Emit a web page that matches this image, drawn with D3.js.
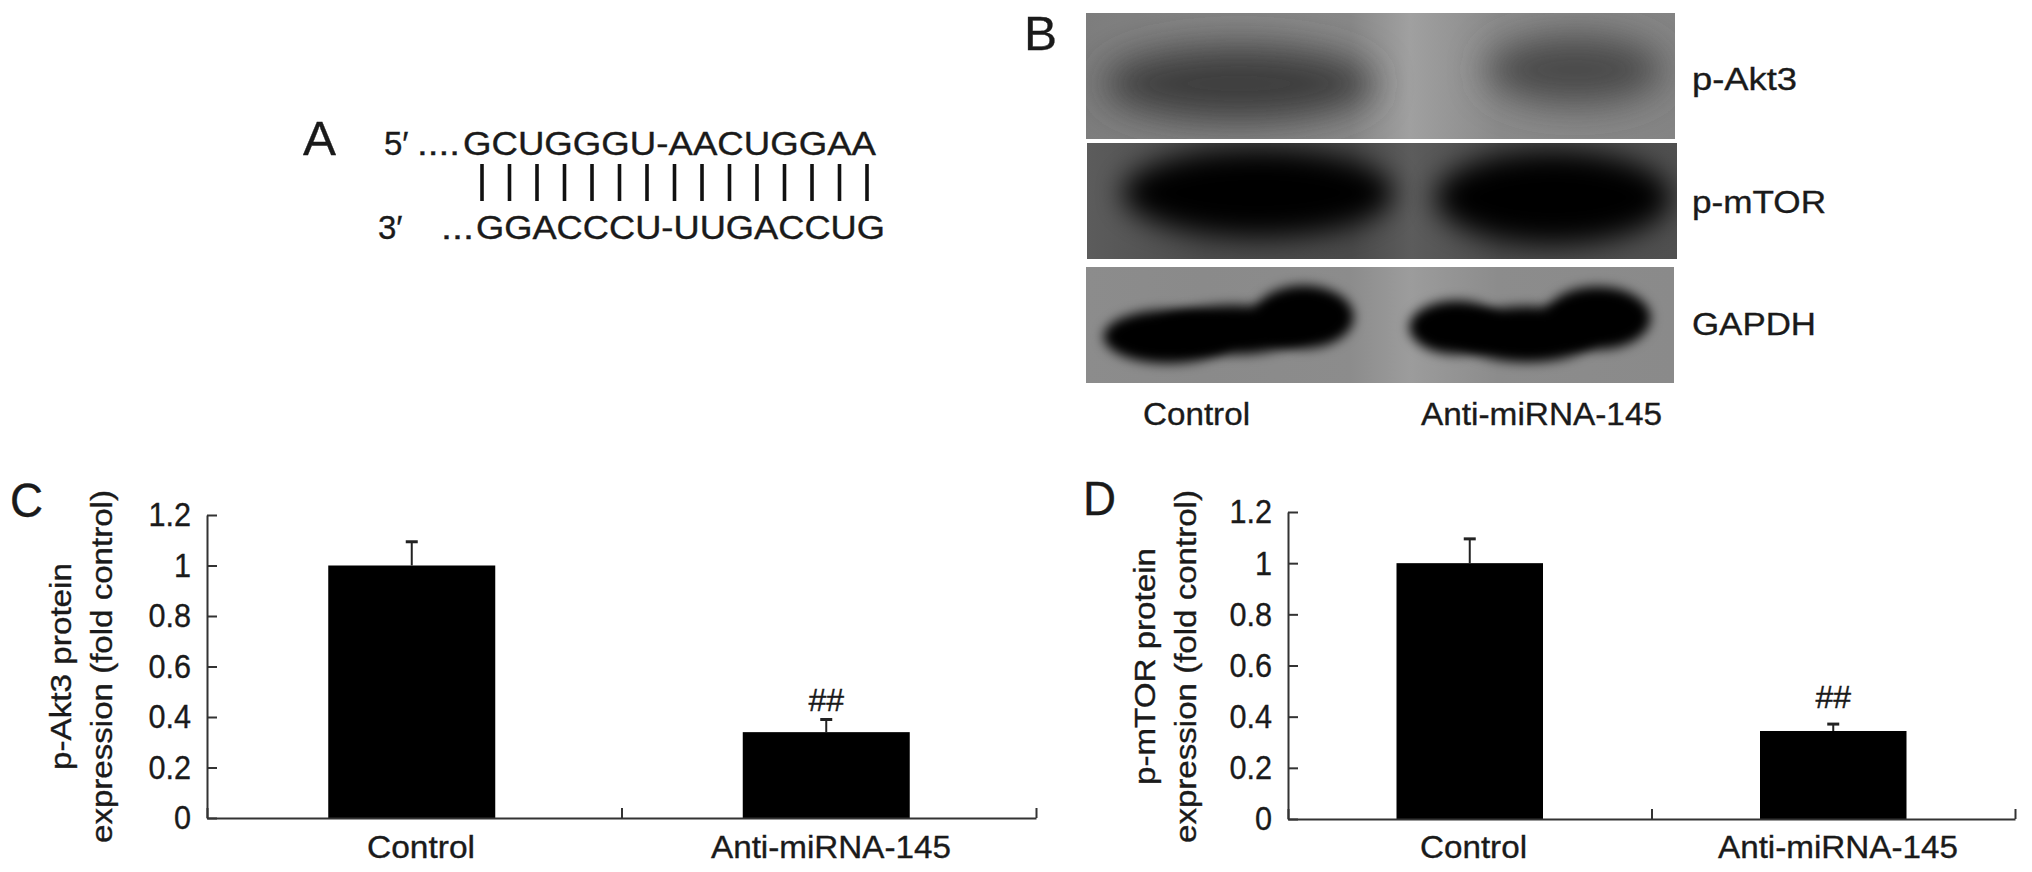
<!DOCTYPE html>
<html><head><meta charset="utf-8">
<script src="https://cdnjs.cloudflare.com/ajax/libs/d3/7.8.5/d3.min.js"></script>
<style>html,body{margin:0;padding:0;background:#fff}svg{display:block}text{font-family:"Liberation Sans",Arial,sans-serif;fill:#1a1a1a;stroke:#1a1a1a;stroke-width:.35px}</style>
</head><body><svg id="c" width="2032" height="872"></svg>
<script>
const categories = ["Control", "Anti-miRNA-145"];
const yTicks = [0, 0.2, 0.4, 0.6, 0.8, 1, 1.2];
const akt3Values = [1.0, 0.34];
const akt3Errors = [0.094, 0.05];
const mtorValues = [1.0, 0.344];
const mtorErrors = [0.095, 0.027];
const significance = ["", "##"];
const topStrand = "GCUGGGU-AACUGGAA";
const bottomStrand = "GGACCCU-UUGACCUG";
const pairIds = d3.range(15);
const blotLabels = ["p-Akt3", "p-mTOR", "GAPDH"];

const svg = d3.select("#c");
const defs = svg.append("defs");
[6, 14, 18].forEach(s => defs.append("filter").attr("id", "blur" + s)
  .attr("x", "-50%").attr("y", "-50%").attr("width", "200%").attr("height", "200%")
  .append("feGaussianBlur").attr("stdDeviation", s));

function label(x, y, s, size, o = {}) {
  const t = svg.append("text").attr("x", x).attr("y", y).attr("font-size", size).text(s);
  if (o.len) t.attr("textLength", o.len).attr("lengthAdjust", "spacingAndGlyphs");
  return t;
}

/* Panel letters */
[["A", 303, 155], ["B", 1024, 50], ["C", 10, 517], ["D", 1083, 515]].forEach(d =>
  label(d[1], d[2], d[0], 49, {len: 33}));

/* Panel A */
label(384, 155, "5′", 33);
label(417, 155, "....", 33, {len: 43});
label(463, 155, topStrand, 33, {len: 413});
label(378, 239, "3′", 33);
label(441, 239, "...", 33, {len: 33});
label(476, 239, bottomStrand, 33, {len: 409});
const pairX = d3.scalePoint().domain(pairIds).range([482, 867]);
svg.append("g").selectAll("line").data(pairIds).join("line")
  .attr("x1", d => pairX(d)).attr("x2", d => pairX(d)).attr("y1", 164).attr("y2", 201)
  .attr("stroke", "#111").attr("stroke-width", 3.6);

/* Panel B: blots */
const blots = [
  {x: 1086, y: 13, w: 589, h: 126, stops: ["#7d7d7d", "#848484", "#888888", "#a0a0a0", "#8a8a8a", "#848484"],
   blob: [[.26, .56, .23, .3, "#3c3c3c", 18], [.83, .45, .15, .27, "#4a4a4a", 18]]},
  {x: 1087, y: 143, w: 590, h: 116, stops: ["#5c5c5c", "#4c4c4c", "#4a4a4a", "#5c5c5c", "#4c4c4c", "#505050"],
   blob: [[.29, .43, .23, .38, "#000", 14], [.79, .47, .2, .4, "#000", 14]]},
  {x: 1086, y: 267, w: 588, h: 116, stops: ["#8c8c8c", "#8a8a8a", "#8c8c8c", "#9c9c9c", "#8c8c8c", "#8a8a8a"],
   blob: [[.14, .6, .11, .23, "#000", 6], [.25, .54, .13, .21, "#000", 6], [.37, .43, .085, .27, "#000", 6],
          [.63, .52, .08, .23, "#000", 6], [.75, .58, .12, .24, "#000", 6], [.87, .44, .09, .27, "#000", 6]]}
];
blots.forEach((b, i) => {
  const px = d3.scaleLinear().domain([0, 1]).range([b.x, b.x + b.w]);
  const py = d3.scaleLinear().domain([0, 1]).range([b.y, b.y + b.h]);
  const gid = "bg" + i;
  defs.append("linearGradient").attr("id", gid).selectAll("stop").data(b.stops).join("stop")
    .attr("offset", (d, k) => [0, .2, .45, .55, .7, 1][k]).attr("stop-color", d => d);
  defs.append("clipPath").attr("id", "clip" + i).append("rect")
    .attr("x", b.x).attr("y", b.y).attr("width", b.w).attr("height", b.h);
  const g = svg.append("g").attr("clip-path", `url(#clip${i})`);
  g.append("rect").attr("x", b.x).attr("y", b.y).attr("width", b.w).attr("height", b.h).attr("fill", `url(#${gid})`);
  g.selectAll("ellipse").data(b.blob).join("ellipse")
    .attr("cx", d => px(d[0])).attr("cy", d => py(d[1]))
    .attr("rx", d => d[2] * b.w).attr("ry", d => d[3] * b.h)
    .attr("fill", d => d[4]).attr("filter", d => `url(#blur${d[5]})`);
});
label(1692, 90, blotLabels[0], 32, {len: 105});
label(1692, 213, blotLabels[1], 32, {len: 134});
label(1692, 335, blotLabels[2], 32, {len: 124});
label(1143, 425, categories[0], 32, {len: 107});
label(1421, 425, categories[1], 32, {len: 241});

/* Bar panels */
function barPanel(o) {
  const y = d3.scaleLinear().domain([0, 1.2]).range([o.y0, o.y1]);
  const band = d3.scaleBand().domain(categories).range([o.x0 + o.shift, o.x1 + o.shift]).paddingInner(o.pad).paddingOuter(o.pad / 2);
  const frame = d3.scaleLinear().domain([0, categories.length]).range([o.x0, o.x1]);
  const g = svg.append("g");

  g.selectAll(".bar").data(o.values).join("rect").attr("class", "bar")
    .attr("x", (d, i) => band(categories[i])).attr("width", band.bandwidth())
    .attr("y", d => y(d)).attr("height", d => y(0) - y(d)).attr("fill", "#000");

  const cx = i => band(categories[i]) + band.bandwidth() / 2;
  g.selectAll(".err").data(o.values).join("line").attr("class", "err")
    .attr("x1", (d, i) => cx(i)).attr("x2", (d, i) => cx(i))
    .attr("y1", d => y(d)).attr("y2", (d, i) => y(d + o.errors[i]))
    .attr("stroke", "#222").attr("stroke-width", 2);
  g.selectAll(".cap").data(o.values).join("line").attr("class", "cap")
    .attr("x1", (d, i) => cx(i) - 6).attr("x2", (d, i) => cx(i) + 6)
    .attr("y1", (d, i) => y(d + o.errors[i])).attr("y2", (d, i) => y(d + o.errors[i]))
    .attr("stroke", "#222").attr("stroke-width", 3);

  const ya = g.append("g").attr("transform", `translate(${o.x0},0)`)
    .call(d3.axisLeft(y).tickValues(yTicks).tickFormat(d => String(d)).tickSizeInner(-10).tickSizeOuter(0).tickPadding(16));
  ya.selectAll("text").attr("font-size", 34).each(function () {
    d3.select(this).attr("textLength", this.getComputedTextLength() * 0.9).attr("lengthAdjust", "spacingAndGlyphs");
  });
  ya.selectAll("path,line").attr("stroke", "#333").attr("stroke-width", 2);

  const xt = g.append("g").attr("transform", `translate(0,${o.y0})`)
    .call(d3.axisBottom(frame).tickValues([0, 1, 2]).tickFormat("").tickSizeInner(-10).tickSizeOuter(0));
  xt.selectAll("path,line").attr("stroke", "#333").attr("stroke-width", 2);

  o.catLabels.forEach((c, i) => label(c.x, 858, categories[i], 32, {len: c.len}));
  g.selectAll(".sig").data(significance).join("text").attr("class", "sig")
    .attr("x", (d, i) => cx(i)).attr("y", o.sigY).attr("text-anchor", "middle").attr("font-size", 32)
    .text(d => d);

  o.titles.forEach(t => {
    svg.append("text").attr("transform", `translate(${t.x},${t.y}) rotate(-90)`)
      .attr("font-size", 30).attr("textLength", t.len).attr("lengthAdjust", "spacingAndGlyphs").text(t.s);
  });
}
barPanel({x0: 207, x1: 1036, y0: 818, y1: 515, shift: -2.5, pad: 1 - 167 / 414.5,
  values: akt3Values, errors: akt3Errors, sigY: 711,
  catLabels: [{x: 367, len: 108}, {x: 711, len: 240}],
  titles: [{x: 71, y: 770, len: 207, s: "p-Akt3 protein"}, {x: 112, y: 843, len: 353, s: "expression (fold control)"}]});
barPanel({x0: 1288, x1: 2015, y0: 819, y1: 512, shift: 0, pad: 1 - 146.5 / 363.5,
  values: mtorValues, errors: mtorErrors, sigY: 708,
  catLabels: [{x: 1420, len: 107}, {x: 1718, len: 240}],
  titles: [{x: 1155, y: 785, len: 237, s: "p-mTOR protein"}, {x: 1196, y: 843, len: 353, s: "expression (fold control)"}]});
</script></body></html>
